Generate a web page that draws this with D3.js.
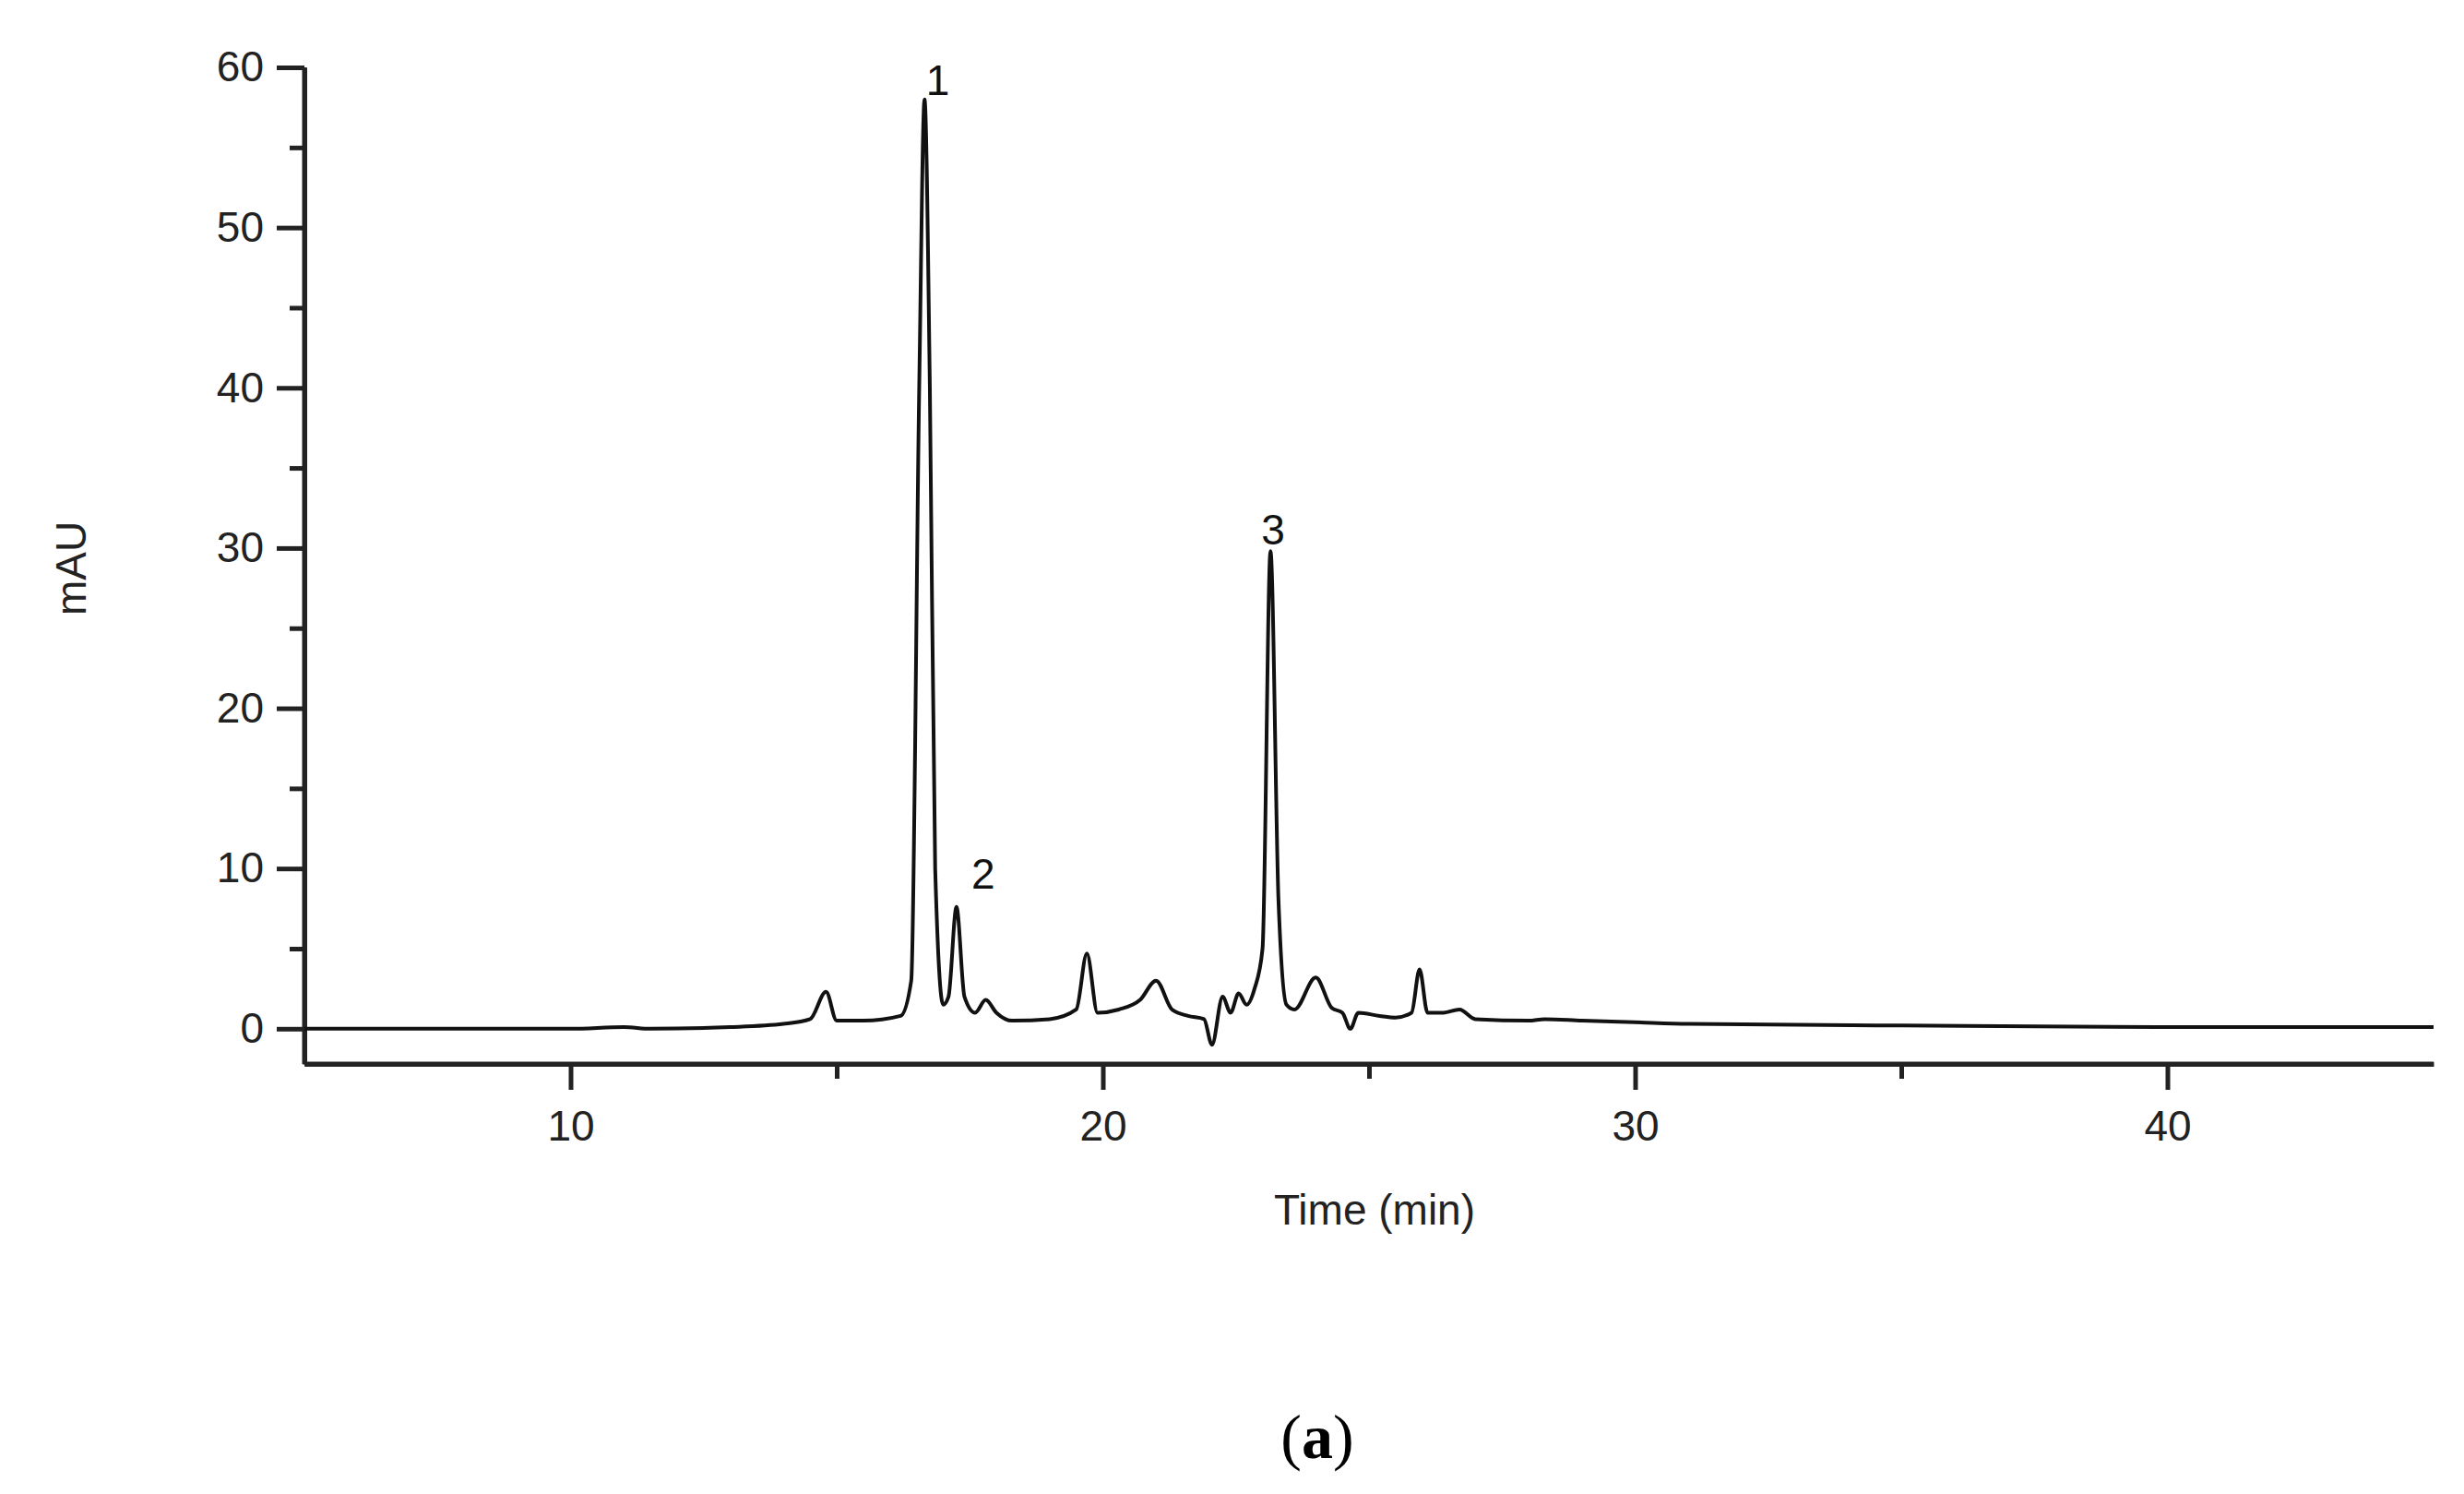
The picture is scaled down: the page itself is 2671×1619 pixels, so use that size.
<!DOCTYPE html>
<html><head><meta charset="utf-8">
<script src="https://cdn.jsdelivr.net/npm/d3@7"></script>
<style>body{margin:0;background:#fff}</style></head>
<body><svg id="c" width="2671" height="1619"></svg>
<script>
const times = [5,10,11,11.5,13,14,14.5,14.8,15.0,15.5,16.2,16.4,16.55,16.65,16.75,16.85,17.0,17.1,17.25,17.4,17.6,17.8,18.0,18.3,19,19.5,19.7,19.9,20.3,20.7,21.0,21.3,21.6,21.9,22.05,22.25,22.4,22.55,22.7,22.85,23.0,23.15,23.3,23.45,23.6,24.0,24.3,24.5,24.65,24.8,25.2,25.5,25.8,25.95,26.1,26.4,26.7,27,28,28.3,29,30,31,35,40,45];
const mau   = [0,0,0.1,0,0.1,0.3,0.6,2.3,0.5,0.5,0.8,3,40,58,40,10,1.5,2,7.6,2,1,1.8,1,0.5,0.6,1.2,4.7,1,1.2,1.8,3,1.2,0.8,0.6,-1,2,1,2.2,1.5,2.5,5,29.8,8,1.5,1.2,3.2,1.3,1,0,1,0.8,0.7,1,3.7,1,1,1.2,0.6,0.5,0.6,0.5,0.4,0.3,0.2,0.1,0.1];
const peakLabels = ["1","2","3"];
const peakPos = [[16.9,58.3],[17.75,8.75],[23.2,30.2]];
const xTicks = [10,20,30,40];
const yTicks = [0,10,20,30,40,50,60];

const svg = d3.select("#c");
const x = d3.scaleLinear().domain([5,45]).range([330,2638]);
const y = d3.scaleLinear().domain([-2.2,60]).range([1153,73]);
const font = "Liberation Sans, Arial, sans-serif";

const ya = svg.append("g").attr("transform","translate(330,0)")
  .call(d3.axisLeft(y).tickValues(yTicks).tickSize(30).tickSizeOuter(0).tickPadding(14));
const ym = svg.append("g").attr("transform","translate(330,0)")
  .call(d3.axisLeft(y).tickValues([5,15,25,35,45,55]).tickSize(16).tickFormat("").tickSizeOuter(0));
const xa = svg.append("g").attr("transform","translate(0,1153)")
  .call(d3.axisBottom(x).tickValues(xTicks).tickSize(28).tickSizeOuter(0).tickPadding(22));
const xm = svg.append("g").attr("transform","translate(0,1153)")
  .call(d3.axisBottom(x).tickValues([15,25,35]).tickSize(16).tickFormat("").tickSizeOuter(0));
[ya,ym,xa,xm].forEach(g=>{
  g.selectAll("path,line").attr("stroke","#222").attr("stroke-width",5);
  g.selectAll("text").attr("font-family",font).attr("font-size",46).attr("fill","#222");
});
ya.select(".domain").attr("d","M0,73V1153");
xa.select(".domain").attr("d","M330,0H2638");

const line = d3.line().x((d,i)=>x(times[i])).y((d,i)=>y(mau[i])).curve(d3.curveMonotoneX);
svg.append("path").datum(mau).attr("d",line).attr("fill","none")
  .attr("stroke","#111").attr("stroke-width",4).attr("stroke-linejoin","round");

svg.selectAll(".pl").data(peakLabels).join("text")
  .attr("x",(d,i)=>x(peakPos[i][0])).attr("y",(d,i)=>y(peakPos[i][1]))
  .attr("text-anchor","middle").attr("font-family",font).attr("font-size",46).attr("fill","#111").text(d=>d);

svg.append("text").attr("x",1490).attr("y",1327).attr("text-anchor","middle")
  .attr("font-family",font).attr("font-size",46).attr("fill","#222").text("Time (min)");
svg.append("text").attr("transform","translate(93,616) rotate(-90)").attr("text-anchor","middle")
  .attr("font-family",font).attr("font-size",46).attr("fill","#222").text("mAU");
svg.append("text").attr("x",1428).attr("y",1580).attr("text-anchor","middle")
  .attr("font-family","Liberation Serif, serif").attr("font-size",68).attr("fill","#000")
  .html('(<tspan font-weight="bold">a</tspan>)');
</script></body></html>
